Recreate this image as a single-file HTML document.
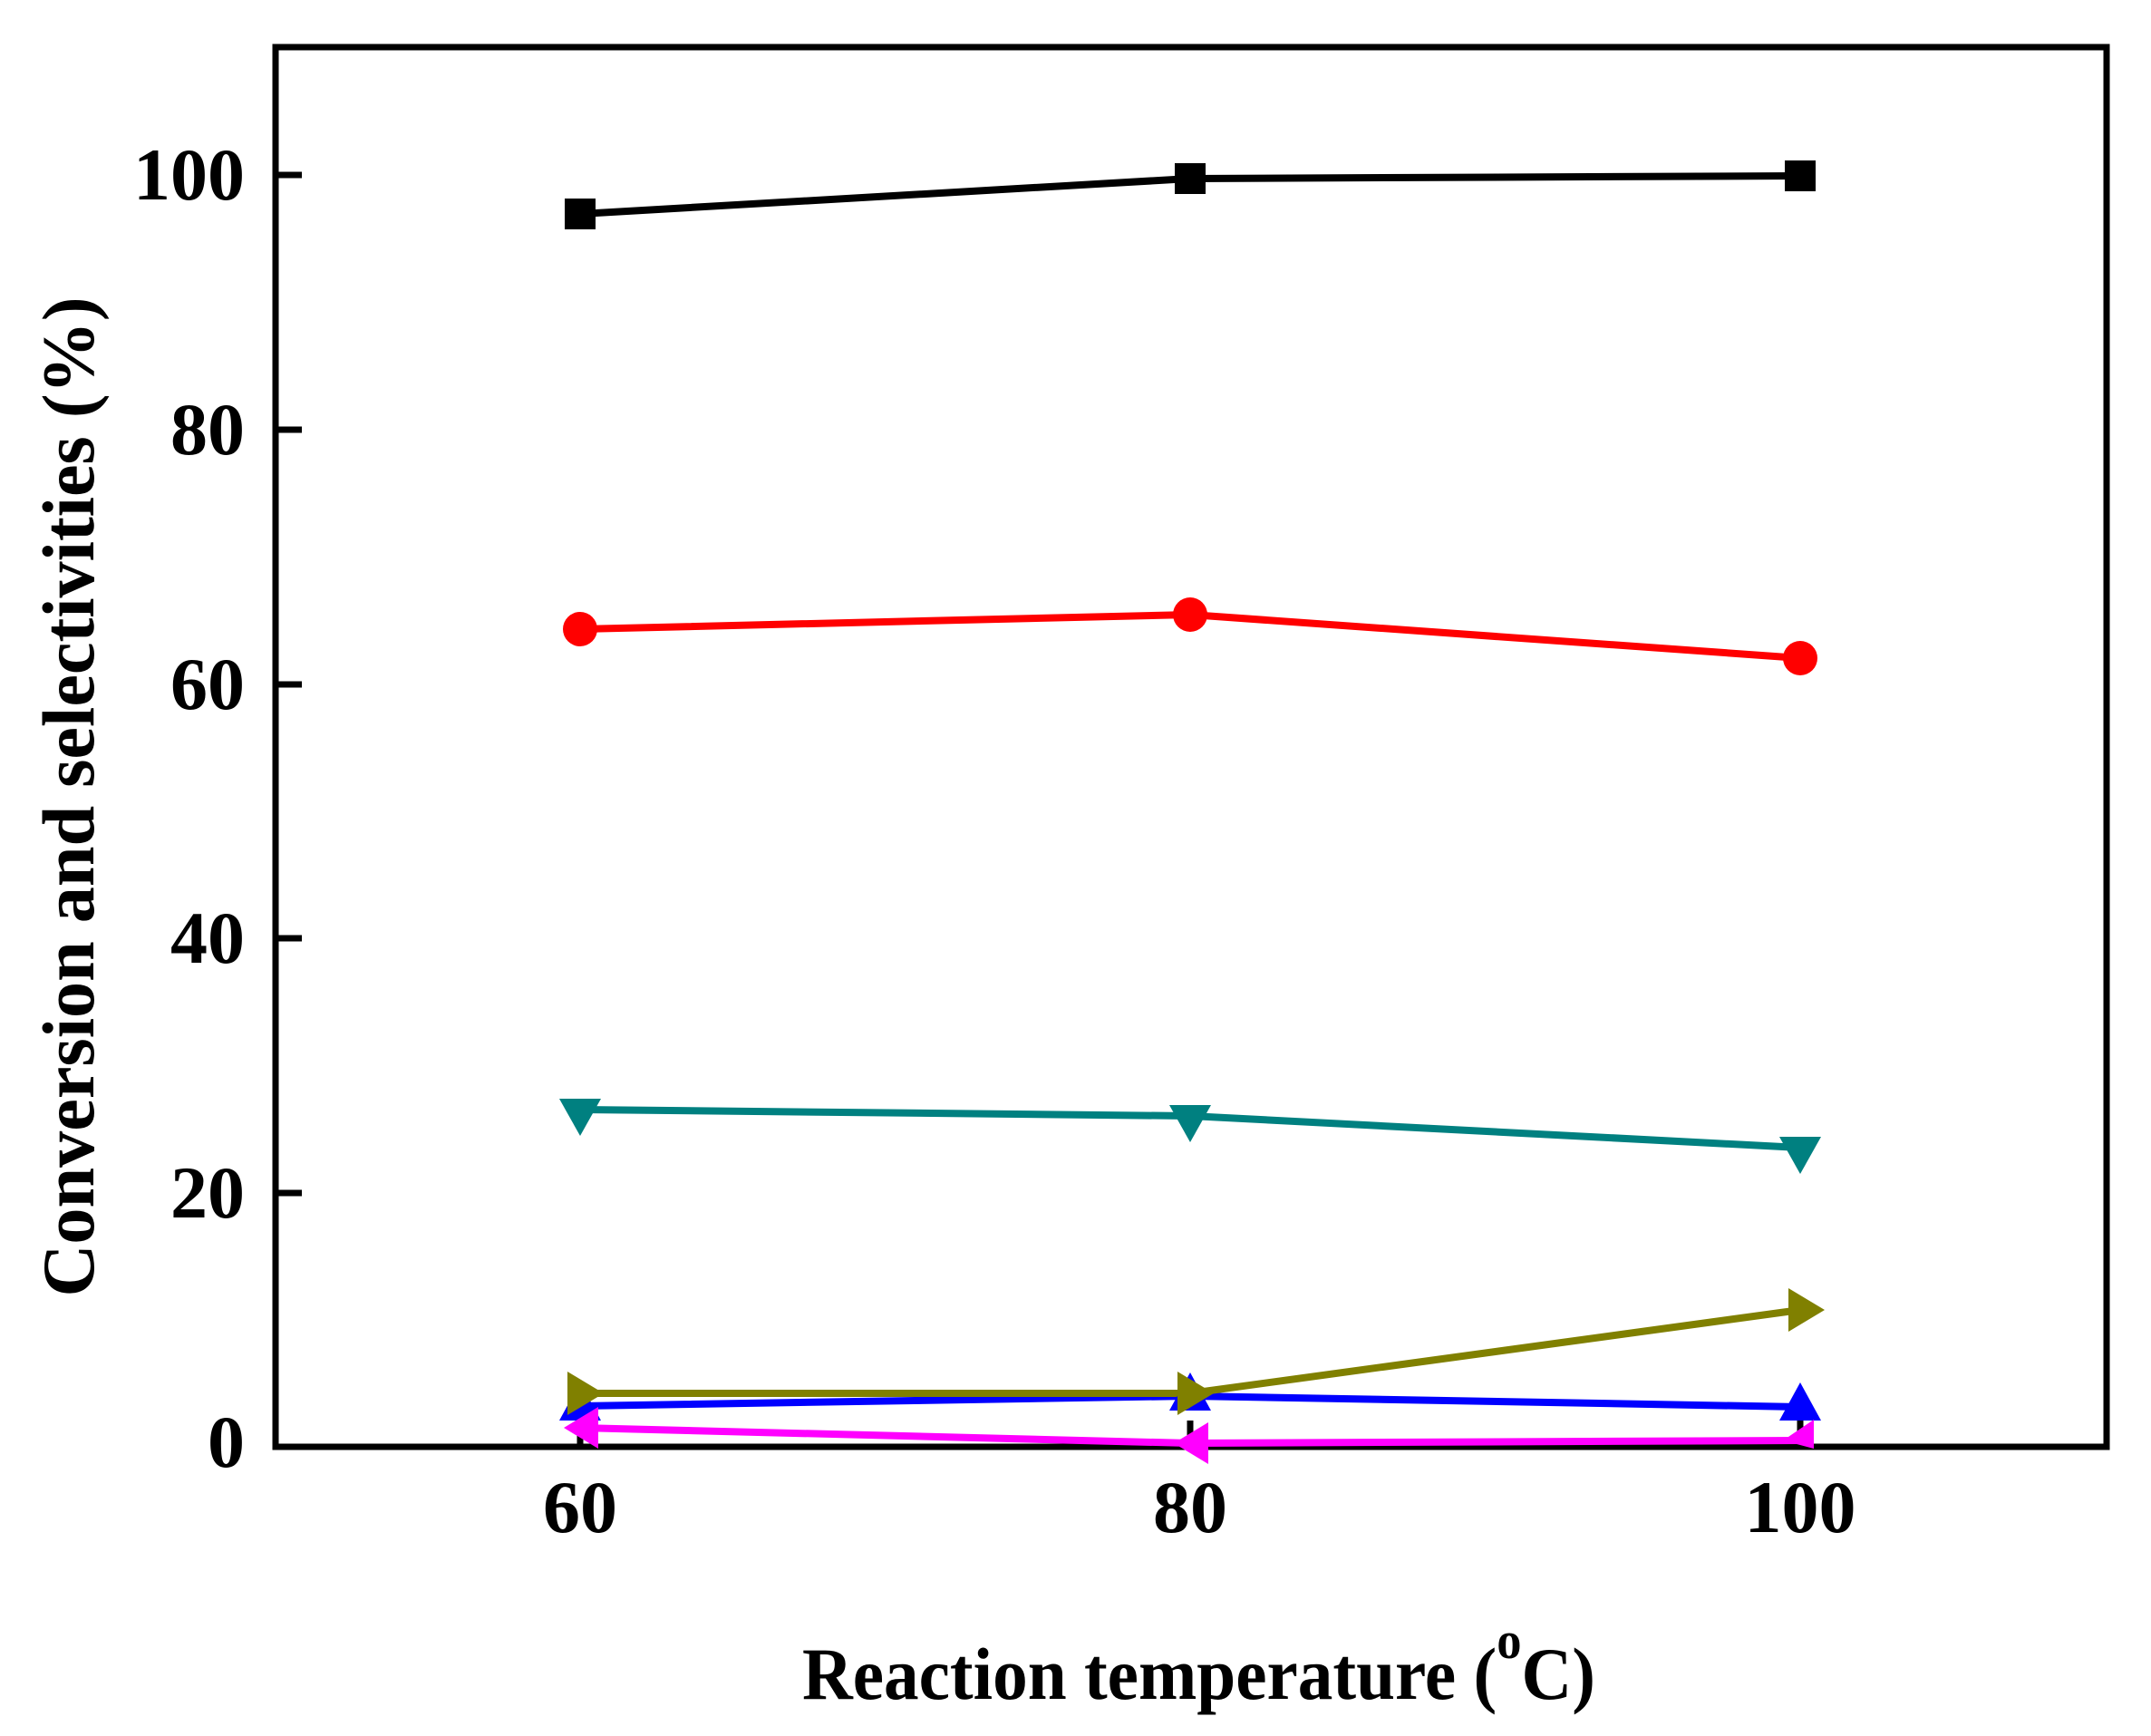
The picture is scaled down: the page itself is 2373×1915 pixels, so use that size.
<!DOCTYPE html>
<html><head><meta charset="utf-8"><style>html,body{margin:0;padding:0;background:#fff}svg{display:block}</style></head>
<body>
<svg width="2373" height="1915" viewBox="0 0 2373 1915" xmlns="http://www.w3.org/2000/svg" font-family="Liberation Serif, serif" font-weight="bold">
<rect width="2373" height="1915" fill="#fff"/>
<!-- ticks -->
<g stroke="#000" stroke-width="7">
<line x1="304" y1="193" x2="333" y2="193"/>
<line x1="304" y1="474" x2="333" y2="474"/>
<line x1="304" y1="755" x2="333" y2="755"/>
<line x1="304" y1="1035" x2="333" y2="1035"/>
<line x1="304" y1="1316" x2="333" y2="1316"/>
<line x1="640" y1="1596" x2="640" y2="1567"/>
<line x1="1313" y1="1596" x2="1313" y2="1567"/>
<line x1="1986" y1="1596" x2="1986" y2="1567"/>
</g>
<rect x="304" y="52" width="2020" height="1544" fill="none" stroke="#000" stroke-width="7"/>
<!-- y labels -->
<g font-size="82" text-anchor="end">
<text x="270" y="220">100</text>
<text x="270" y="501">80</text>
<text x="270" y="782">60</text>
<text x="270" y="1062">40</text>
<text x="270" y="1343">20</text>
<text x="270" y="1618">0</text>
</g>
<g font-size="82" text-anchor="middle">
<text x="640" y="1690">60</text>
<text x="1313" y="1690">80</text>
<text x="1986" y="1690">100</text>
</g>
<text x="885" y="1874" font-size="82" textLength="875" lengthAdjust="spacingAndGlyphs">Reaction temperature (<tspan font-size="58" dy="-45">o</tspan><tspan dy="45">C)</tspan></text>
<text transform="translate(103,879) rotate(-90)" font-size="82" text-anchor="middle" textLength="1103" lengthAdjust="spacingAndGlyphs">Conversion and selectivities (%)</text>
<!-- series -->
<g stroke-width="8" fill="none">
<polyline stroke="#000" points="640,236 1313,197 1986,194"/>
<polyline stroke="#f00" points="640,694 1313,678 1986,726"/>
<polyline stroke="#008080" points="640,1224 1313,1231 1986,1266"/>
<polyline stroke="#0000ff" points="640,1551 1313,1540 1986,1552"/>
<polyline stroke="#ff00ff" points="640,1575 1313,1592 1986,1589"/>
<polyline stroke="#808000" points="640,1537 1313,1537 1986,1445"/>
</g>
<!-- markers -->
<g fill="#000"><rect x="623" y="219" width="34" height="34"/><rect x="1296" y="180" width="34" height="34"/><rect x="1969" y="177" width="34" height="34"/></g>
<g fill="#f00"><circle cx="640" cy="694" r="19"/><circle cx="1313" cy="678" r="19"/><circle cx="1986" cy="726" r="19"/></g>
<g fill="#008080"><path d="M617,1212 L663,1212 L640,1253Z"/><path d="M1290,1219 L1336,1219 L1313,1260Z"/><path d="M1963,1254 L2009,1254 L1986,1295Z"/></g>
<g fill="#0000ff"><path d="M617,1567 L663,1567 L640,1525Z"/><path d="M1290,1556 L1336,1556 L1313,1514Z"/><path d="M1963,1567 L2009,1567 L1986,1525Z"/></g>
<g fill="#ff00ff"><path d="M622,1575 L660,1552 L660,1598Z"/><path d="M1295,1592 L1333,1569 L1333,1615Z"/><path d="M1967,1589 L2001,1566 L2001,1598Z"/></g>
<g fill="#808000"><path d="M626,1513 L666,1537 L626,1561Z"/><path d="M1299,1513 L1339,1537 L1299,1561Z"/><path d="M1973,1421 L2013,1445 L1973,1469Z"/></g>
</svg>
</body></html>
